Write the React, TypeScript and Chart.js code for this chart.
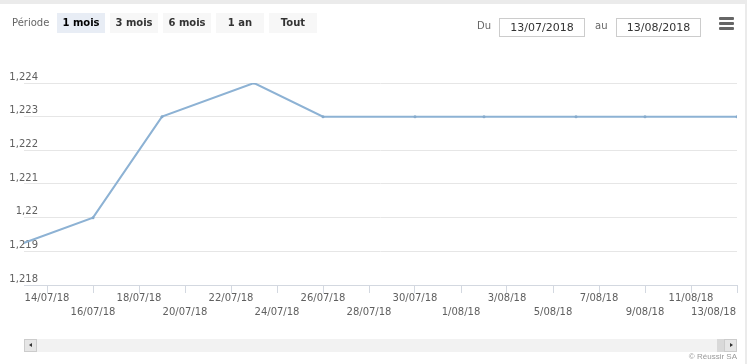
import React, { useEffect, useRef } from 'react';
import { Chart, registerables } from 'chart.js';

Chart.register(...registerables);

// ---- data ----
const axisStartDate = '13/07/18';
const axisEndDate = '13/08/18';
const pointDates = ['12/07/18', '16/07/18', '19/07/18', '23/07/18', '26/07/18', '30/07/18', '2/08/18', '6/08/18', '9/08/18', '13/08/18'];
const pointValues = [1.219, 1.22, 1.223, 1.224, 1.223, 1.223, 1.223, 1.223, 1.223, 1.223];
const xTickLabels = ['14/07/18', '16/07/18', '18/07/18', '20/07/18', '22/07/18', '24/07/18', '26/07/18', '28/07/18', '30/07/18', '1/08/18', '3/08/18', '5/08/18', '7/08/18', '9/08/18', '11/08/18', '13/08/18'];
const yMin = 1.218;
const yMax = 1.224;
const yStep = 0.001;
const rangeButtons = ['1 mois', '3 mois', '6 mois', '1 an', 'Tout'];
const periodLabel = 'Période';
const fromLabel = 'Du';
const toLabel = 'au';
const fromDate = '13/07/2018';
const toDate = '13/08/2018';
const creditText = '© Réussir SA';

function toUTC(s: string): number {
  const [d, m, y] = s.split('/').map(Number);
  return Date.UTC(2000 + y, m - 1, d);
}
function dayIndex(s: string): number {
  return (toUTC(s) - toUTC(axisStartDate)) / 86400000;
}
function fmtY(v: number): string {
  return String(Number(Number(v).toFixed(3))).replace('.', ',');
}

const FONT = '"DejaVu Sans", sans-serif';

export default function App() {
  const canvasRef = useRef<HTMLCanvasElement | null>(null);

  useEffect(() => {
    document.body.style.margin = '0';
    const canvas = canvasRef.current;
    if (!canvas) return;

    const mctx = document.createElement('canvas').getContext('2d')!;
    mctx.font = '10px "DejaVu Sans"';
    const widest = Math.max(...[yMin, yMax].map((v) => mctx.measureText(fmtY(v)).width));

    const lastLabelRight = {
      id: 'lastLabelRight',
      beforeDraw(chart: any) {
        const s = chart.scales.x;
        const items = s.getLabelItems(chart.chartArea);
        const last = items[items.length - 1];
        if (last) {
          last.options.textAlign = 'right';
          last.options.translation = [s.right - 1, last.options.translation[1]];
        }
      },
    };

    const chart = new Chart(canvas, {
      type: 'line',
      data: {
        datasets: [
          {
            data: pointDates.map((d, i) => ({ x: dayIndex(d), y: pointValues[i] })),
            borderColor: '#8db2d4',
            backgroundColor: '#8db2d4',
            borderWidth: 2,
            pointRadius: 1.5,
            pointBorderWidth: 0,
            pointBackgroundColor: '#86abcd',
            tension: 0,
            fill: false,
          },
        ],
      },
      options: {
        animation: false,
        responsive: false,
        events: [],
        layout: { padding: { top: 83, left: 8, right: 10, bottom: 0 } },
        plugins: { legend: { display: false }, tooltip: { enabled: false } },
        scales: {
          x: {
            type: 'linear',
            min: 0,
            max: dayIndex(axisEndDate),
            afterBuildTicks: (scale: any) => {
              scale.ticks = xTickLabels.map((l) => ({ value: dayIndex(l) }));
            },
            afterFit: (scale: any) => {
              scale.height = 79;
              scale.paddingLeft = 0;
              scale.paddingRight = 0;
            },
            grid: {
              display: true,
              drawOnChartArea: false,
              drawTicks: true,
              tickLength: 8,
              color: '#d3d8e0',
            },
            border: { display: true, color: '#d3d8e0' },
            ticks: {
              autoSkip: false,
              maxRotation: 0,
              minRotation: 0,
              padding: -1,
              color: '#606060',
              font: { family: FONT, size: 10, lineHeight: 1.35 },
              callback: (_v: any, index: number) => {
                const l = xTickLabels[index];
                return index % 2 === 0 ? l : ['', l];
              },
            },
          },
          y: {
            min: yMin,
            max: yMax,
            afterFit: (scale: any) => {
              scale.width = 16;
              scale.paddingTop = 0;
              scale.paddingBottom = 0;
            },
            grid: { color: '#e6e6e6', lineWidth: 1, drawTicks: false, tickLength: 0 },
            border: { display: false },
            ticks: {
              stepSize: yStep,
              mirror: true,
              crossAlign: 'far',
              padding: 14 - widest,
              labelOffset: -6,
              color: '#606060',
              font: { family: FONT, size: 10 },
              callback: (v: any) => fmtY(Number(v)),
            },
          },
        },
      },
      plugins: [lastLabelRight],
    } as any);

    return () => chart.destroy();
  }, []);

  const abs = (s: React.CSSProperties): React.CSSProperties => ({ position: 'absolute', ...s });
  const btnLefts = [57, 110, 163, 216, 269];

  return (
    <div
      style={{
        position: 'fixed',
        left: 0,
        top: 0,
        width: 747,
        height: 364,
        overflow: 'hidden',
        background: '#ffffff',
        fontFamily: FONT,
      }}
    >
      <canvas ref={canvasRef} width={747} height={364} style={{ position: 'absolute', left: 0, top: 0 }} />
      <div style={abs({ left: 0, top: 0, width: 747, height: 4, background: '#ebebeb' })} />
      <div style={abs({ left: 745, top: 0, width: 2, height: 364, background: '#ebebeb' })} />

      <div style={abs({ left: 12, top: 13, height: 20, lineHeight: '20px', fontSize: 10, color: '#666' })}>{periodLabel}</div>
      {rangeButtons.map((b, i) => (
        <div
          key={b}
          style={abs({
            left: btnLefts[i],
            top: 13,
            width: 48,
            height: 20,
            lineHeight: '20px',
            textAlign: 'center',
            fontSize: 10,
            fontWeight: 'bold',
            color: i === 0 ? '#000' : '#333',
            background: i === 0 ? '#e8edf5' : '#f7f7f7',
          })}
        >
          {b}
        </div>
      ))}

      <div style={abs({ left: 477, top: 16, height: 20, lineHeight: '20px', fontSize: 10, color: '#666' })}>{fromLabel}</div>
      <div
        style={abs({
          left: 499,
          top: 18,
          width: 86,
          height: 19,
          boxSizing: 'border-box',
          border: '1px solid #cccccc',
          lineHeight: '17px',
          textAlign: 'center',
          fontSize: 11,
          color: '#333',
        })}
      >
        {fromDate}
      </div>
      <div style={abs({ left: 595, top: 16, height: 20, lineHeight: '20px', fontSize: 10, color: '#666' })}>{toLabel}</div>
      <div
        style={abs({
          left: 616,
          top: 18,
          width: 85,
          height: 19,
          boxSizing: 'border-box',
          border: '1px solid #cccccc',
          lineHeight: '17px',
          textAlign: 'center',
          fontSize: 11,
          color: '#333',
        })}
      >
        {toDate}
      </div>
      {[17, 22, 27].map((t) => (
        <div key={t} style={abs({ left: 719, top: t, width: 15, height: 3, background: '#666', borderRadius: 1 })} />
      ))}

      <div style={abs({ left: 24, top: 339, width: 713, height: 13, background: '#f2f2f2' })} />
      <div
        style={abs({
          left: 24,
          top: 339,
          width: 13,
          height: 13,
          boxSizing: 'border-box',
          background: '#e6e6e6',
          border: '1px solid #cccccc',
        })}
      >
        <div
          style={abs({
            left: 4,
            top: 3,
            width: 0,
            height: 0,
            borderTop: '2.5px solid transparent',
            borderBottom: '2.5px solid transparent',
            borderRight: '3px solid #333',
          })}
        />
      </div>
      <div style={abs({ left: 717, top: 339, width: 7, height: 13, background: '#d9d9d9' })} />
      <div
        style={abs({
          left: 724,
          top: 339,
          width: 13,
          height: 13,
          boxSizing: 'border-box',
          background: '#e6e6e6',
          border: '1px solid #cccccc',
        })}
      >
        <div
          style={abs({
            left: 5,
            top: 3,
            width: 0,
            height: 0,
            borderTop: '2.5px solid transparent',
            borderBottom: '2.5px solid transparent',
            borderLeft: '3px solid #333',
          })}
        />
      </div>
      <div
        style={abs({
          right: 10,
          top: 351,
          height: 12,
          lineHeight: '12px',
          fontSize: 8,
          color: '#999',
          fontFamily: '"Liberation Sans", Arial, sans-serif',
          whiteSpace: 'nowrap',
        })}
      >
        {creditText}
      </div>
    </div>
  );
}
